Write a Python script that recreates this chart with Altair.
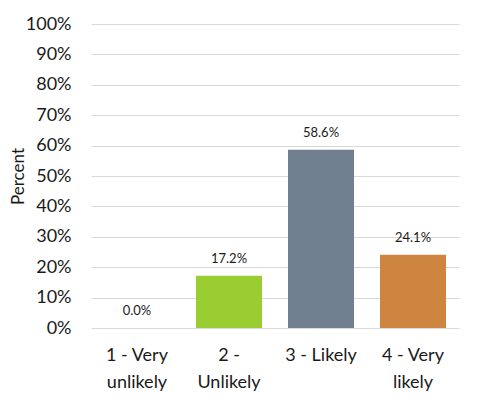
import altair as alt
import pandas as pd

categories = ["1 - Very unlikely", "2 - Unlikely", "3 - Likely", "4 - Very likely"]
label_lines = [["1 - Very", "unlikely"], ["2 -", "Unlikely"], ["3 - Likely"], ["4 - Very", "likely"]]
values = [0.0, 17.2, 58.6, 24.1]
colors = ["#9ACD32", "#9ACD32", "#708090", "#CD853F"]
y_ticks = list(range(0, 101, 10))

df = pd.DataFrame({
    "cat": categories,
    "val": values,
    "label": [f"{v:.1f}%" for v in values],
})

label_map = "{" + ",".join(
    f"'{c}': [" + ",".join(f"'{l}'" for l in lines) + "]"
    for c, lines in zip(categories, label_lines)
) + "}"

FONT = "Lato"

x_scale = alt.Scale(paddingInner=0, paddingOuter=0)
y_scale = alt.Scale(domain=[0, 100], nice=False)

x_enc = alt.X("cat:N", sort=categories, title=None, scale=x_scale,
              axis=alt.Axis(labelAngle=0, labelFontSize=18, labelColor="#1a1a1a",
                            labelFont=FONT, labelLineHeight=27, labelPadding=18,
                            domain=False, ticks=False, labelLimit=200, grid=False,
                            labelExpr=label_map + "[datum.value]"))

y_enc = alt.Y("val:Q", title="Percent", scale=y_scale,
              axis=alt.Axis(values=y_ticks, labelExpr="datum.value + '%'",
                            labelOverlap=False,
                            labelFontSize=18, labelColor="#1a1a1a", labelFont=FONT,
                            labelPadding=20, domain=False, ticks=False,
                            gridColor="#d9d9d9", gridWidth=1.2,
                            titleFont=FONT, titleFontSize=17, titleFontWeight="normal",
                            titleColor="#1a1a1a", titleX=-73, titleY=152,
                            titleAngle=-90, titleAlign="center", titleBaseline="middle"))

bars = alt.Chart(df).mark_bar(size=66).encode(
    x=x_enc,
    y=y_enc,
    color=alt.Color("cat:N", scale=alt.Scale(domain=categories, range=colors), legend=None),
)

text = alt.Chart(df).mark_text(baseline="bottom", dy=-10, fontSize=13, font=FONT, color="#1a1a1a").encode(
    x=alt.X("cat:N", sort=categories, axis=None),
    y=alt.Y("val:Q", axis=None),
    text="label:N",
)

chart = alt.layer(bars, text).resolve_axis(x="independent", y="independent").properties(
    width=368, height=304,
    autosize=alt.AutoSizeParams(type="none"),
    padding={"left": 83, "top": 16, "right": 16, "bottom": 76},
).configure(background="white").configure_view(stroke=None)

chart.save("out.html", embed_options={"renderer": "svg", "actions": False})
